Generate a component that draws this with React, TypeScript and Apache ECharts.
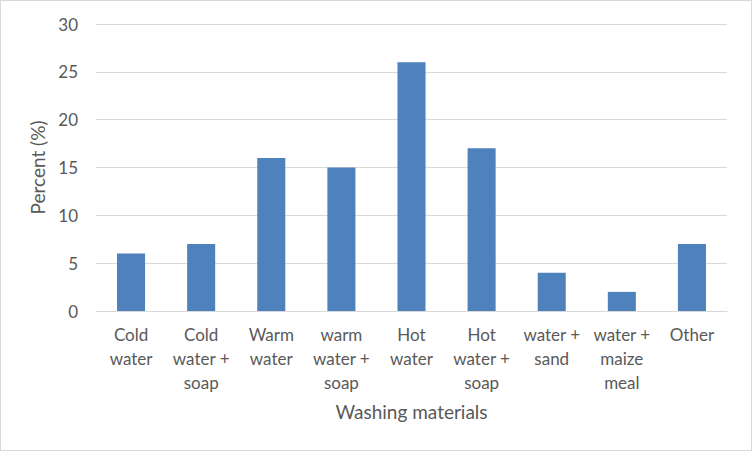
import React, { useEffect, useRef } from "react";
import * as echarts from "echarts";

const categories = [
  "Cold\nwater",
  "Cold\nwater +\nsoap",
  "Warm\nwater",
  "warm\nwater +\nsoap",
  "Hot\nwater",
  "Hot\nwater +\nsoap",
  "water +\nsand",
  "water +\nmaize\nmeal",
  "Other",
];
const percentValues = [6, 7, 16, 15, 26, 17, 4, 2, 7];
const yTicks = { min: 0, max: 30, interval: 5 };

export default function App() {
  const ref = useRef<HTMLDivElement>(null);
  useEffect(() => {
    if (!ref.current) return;
    const chart = echarts.init(ref.current, undefined, { renderer: "svg" });
    const font = "Lato, 'Open Sans', sans-serif";
    chart.setOption({
      animation: false,
      backgroundColor: "#ffffff",
      grid: { left: 95, right: 24, top: 23, bottom: 139, containLabel: false },
      xAxis: {
        type: "category",
        data: categories,
        name: "Washing materials",
        nameLocation: "middle",
        nameGap: 91,
        nameTextStyle: { color: "#595959", fontSize: 19, fontFamily: font },
        axisLine: { lineStyle: { color: "#d9d9d9", width: 1 } },
        axisTick: { show: false },
        axisLabel: {
          color: "#595959",
          fontSize: 17,
          fontFamily: font,
          lineHeight: 24,
          margin: 11,
          interval: 0,
        },
      },
      yAxis: {
        type: "value",
        min: yTicks.min,
        max: yTicks.max,
        interval: yTicks.interval,
        name: "Percent (%)",
        nameLocation: "middle",
        nameGap: 48,
        nameTextStyle: { color: "#595959", fontSize: 19, fontFamily: font },
        axisLine: { show: false },
        axisTick: { show: false },
        axisLabel: { color: "#595959", fontSize: 17, fontFamily: font, margin: 18 },
        splitLine: { lineStyle: { color: "#d9d9d9", width: 1 } },
      },
      series: [
        {
          type: "bar",
          data: percentValues,
          barCategoryGap: "60%",
          itemStyle: { color: "#4f81bd" },
        },
      ],
    });
    return () => chart.dispose();
  }, []);
  return (
    <div
      style={{
        position: "fixed",
        left: 0,
        top: 0,
        width: 752,
        height: 451,
        boxSizing: "border-box",
        border: "1px solid #d9d9d9",
        background: "#fff",
      }}
    >
      <div ref={ref} style={{ width: 750, height: 449 }} />
    </div>
  );
}
